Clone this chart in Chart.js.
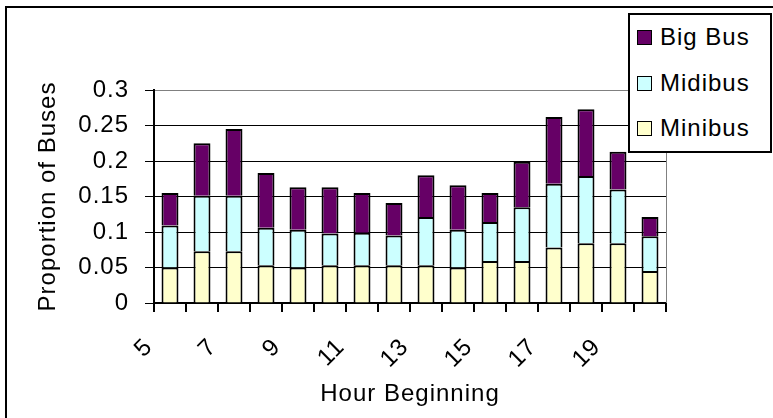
<!DOCTYPE html>
<html>
<head>
<meta charset="utf-8">
<script src="https://cdn.jsdelivr.net/npm/chart.js@4/dist/chart.umd.min.js"></script>
<style>
  html, body { margin: 0; padding: 0; background: #fff; overflow: hidden; }
  #wrap { position: relative; width: 773px; height: 418px; }
  #c { position: absolute; left: 0; top: 0; }
  #frame { position: absolute; left: 5px; top: 6px; width: 820px; height: 460px;
           border-left: 2px solid #000; border-top: 2px solid #000; pointer-events: none; }
  #legend { position: absolute; left: 628px; top: 13px; width: 140px; height: 136px;
            border: 2px solid #000; background: #fff;
            font-family: 'Liberation Sans', Arial, sans-serif; font-size: 24px; letter-spacing: 1px; color: #000; }
  .item { position: absolute; left: 7px; height: 28px; display: flex; align-items: center; white-space: nowrap; }
  .sw { width: 13px; height: 13px; border: 1.5px solid #000; margin-right: 8px; flex: none; }
</style>
</head>
<body>
<div id="wrap">
  <canvas id="c" width="773" height="418"></canvas>
  <div id="legend"></div>
  <div id="frame"></div>
</div>
<script>
// Hour of day each bar starts at
const hours = [5, 6, 7, 8, 9, 10, 11, 12, 13, 14, 15, 16, 17, 18, 19, 20];
// Hours that carry a label on the x axis
const labelledHours = [5, 7, 9, 11, 13, 15, 17, 19];
// Value axis ticks
const yTicks = [0, 0.05, 0.1, 0.15, 0.2, 0.25, 0.3];

// Share of buses per hour, by vehicle size (stacked bottom to top)
const minibus = [0.050, 0.073, 0.073, 0.053, 0.050, 0.053, 0.053, 0.053, 0.053, 0.050, 0.059, 0.059, 0.078, 0.084, 0.084, 0.045];
const midibus = [0.059, 0.078, 0.078, 0.053, 0.053, 0.045, 0.046, 0.042, 0.068, 0.053, 0.055, 0.076, 0.090, 0.095, 0.076, 0.049];
const bigBus  = [0.046, 0.074, 0.094, 0.077, 0.060, 0.065, 0.056, 0.046, 0.059, 0.063, 0.041, 0.064, 0.094, 0.094, 0.053, 0.027];

const seriesNames  = ['Minibus', 'Midibus', 'Big Bus'];
const seriesColors = ['#FFFFCC', '#CCFFFF', '#660066'];
const seriesData   = [minibus, midibus, bigBus];

const FONT = "'Liberation Sans', Arial, sans-serif";
Chart.defaults.font.family = FONT;
Chart.defaults.font.size = 24;
Chart.defaults.color = '#000';

// Slightly wider letter spacing for all canvas text
const spacing = {
  id: 'spacing',
  beforeLayout(chart) { chart.ctx.letterSpacing = '1px'; },
  beforeDraw(chart) { chart.ctx.letterSpacing = '1px'; }
};

// Grey plot-area edge on the right-hand side
const plotEdge = {
  id: 'plotEdge',
  beforeDatasetsDraw(chart) {
    const { ctx, chartArea: a } = chart;
    ctx.save();
    ctx.strokeStyle = '#808080';
    ctx.lineWidth = 1;
    ctx.beginPath();
    ctx.moveTo(Math.round(a.right) + 0.5, a.top);
    ctx.lineTo(Math.round(a.right) + 0.5, a.bottom);
    ctx.stroke();
    ctx.restore();
  }
};

const datasets = seriesNames.map((name, i) => ({
  label: name,
  data: seriesData[i],
  backgroundColor: seriesColors[i],
  borderColor: '#000',
  borderWidth: 2,
  barPercentage: 0.53,
  categoryPercentage: 1
}));

const chart = new Chart(document.getElementById('c'), {
  type: 'bar',
  data: { labels: hours, datasets },
  plugins: [spacing, plotEdge],
  options: {
    responsive: false,
    animation: false,
    events: [],
    layout: { padding: { top: 90, right: 107, left: 0, bottom: 0 } },
    plugins: { legend: { display: false }, tooltip: { enabled: false } },
    scales: {
      x: {
        stacked: true,
        afterFit(scale) { scale.height = 115; },
        grid: { drawOnChartArea: false, drawTicks: true, tickLength: 9, color: '#000', lineWidth: 2 },
        border: { color: '#000', width: 2 },
        ticks: {
          autoSkip: false, minRotation: 45, maxRotation: 45, padding: 21, labelOffset: -21,
          callback(v, i) { return labelledHours.includes(hours[i]) ? String(hours[i]) : ''; }
        },
        title: { display: true, text: 'Hour Beginning', padding: { top: 0, bottom: 9 } }
      },
      y: {
        stacked: true,
        min: 0, max: 0.3,
        afterFit(scale) { scale.width = 154; },
        afterBuildTicks(scale) { scale.ticks = yTicks.map(v => ({ value: v })); },
        grid: {
          color: c => (c.tick && c.tick.value === 0.3) ? '#808080' : '#000',
          lineWidth: 1, tickLength: 9, tickColor: '#000'
        },
        border: { color: '#000', width: 2 },
        ticks: { padding: 16, callback: v => String(+v.toFixed(2)) },
        title: { display: true, text: 'Proportion of Buses', padding: { top: 34, bottom: 0 } }
      }
    }
  }
});

// Legend box, top entry is the top of the stack
const legend = document.getElementById('legend');
const tops = [8, 54, 99];
chart.data.datasets.slice().reverse().forEach((ds, i) => {
  const item = document.createElement('div');
  item.className = 'item';
  item.style.top = tops[i] + 'px';
  const sw = document.createElement('span');
  sw.className = 'sw';
  sw.style.background = ds.backgroundColor;
  const txt = document.createElement('span');
  txt.textContent = ds.label;
  item.appendChild(sw);
  item.appendChild(txt);
  legend.appendChild(item);
});
</script>
</body>
</html>
